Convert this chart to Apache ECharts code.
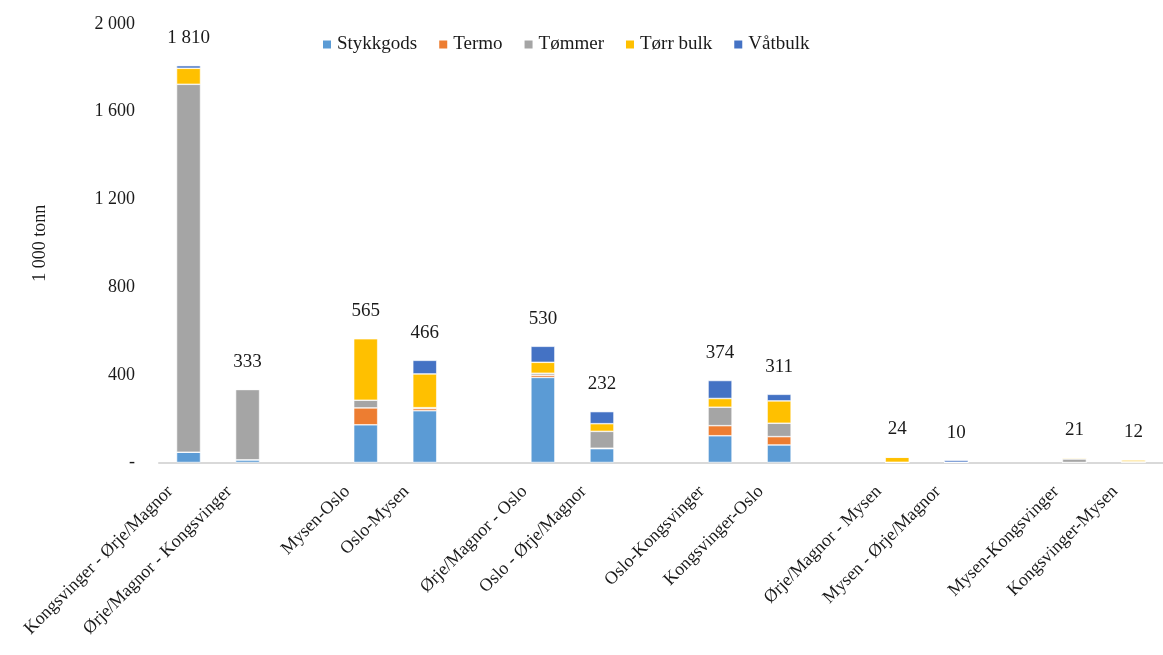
<!DOCTYPE html>
<html>
<head>
<meta charset="utf-8">
<script src="https://cdn.jsdelivr.net/npm/echarts@6/dist/echarts.min.js"></script>
<style>
  html, body { margin: 0; padding: 0; background: #fff; }
  #chart { width: 1163px; height: 655px; }
</style>
</head>
<body>
<div id="chart"></div>
<script>
  // ruter, tomme strenger gir mellomrom mellom parene
  var categories = [
    'Kongsvinger - Ørje/Magnor', 'Ørje/Magnor - Kongsvinger', '',
    'Mysen-Oslo', 'Oslo-Mysen', '',
    'Ørje/Magnor - Oslo', 'Oslo - Ørje/Magnor', '',
    'Oslo-Kongsvinger', 'Kongsvinger-Oslo', '',
    'Ørje/Magnor - Mysen', 'Mysen - Ørje/Magnor', '',
    'Mysen-Kongsvinger', 'Kongsvinger-Mysen'
  ]

  // 1 000 tonn per varegruppe
  var stykkgods = [47, 12, null, 172, 236, null, 388, 63, null, 122, 80, null, 0, 1, null, 0, 0]
  var termo     = [0, 0, null, 77, 10, null, 10, 2, null, 46, 38, null, 0, 0, null, 0, 0]
  var tommer    = [1678, 321, null, 35, 4, null, 9, 77, null, 84, 61, null, 1, 0, null, 16, 4]
  var torrBulk  = [73, 0, null, 281, 154, null, 50, 35, null, 40, 102, null, 23, 0, null, 5, 8]
  var vatbulk   = [12, 0, null, 0, 62, null, 73, 55, null, 82, 30, null, 0, 9, null, 0, 0]

  var yTicks = ['-', '400', '800', '1 200', '1 600', '2 000']

  var serif = '"Liberation Serif", "DejaVu Serif", serif'

  function total(i) {
    return stykkgods[i] + termo[i] + tommer[i] + torrBulk[i] + vatbulk[i]
  }
  function fmt(v) {
    return String(v).replace(/\B(?=(\d{3})+(?!\d))/g, ' ')
  }

  function makeSeries(name, color, data, last) {
    var s = {
      name: name,
      type: 'bar',
      stack: 'sum',
      barWidth: 24,
      data: data,
      itemStyle: { color: color, borderColor: '#ffffff', borderWidth: 0.6 },
      emphasis: { disabled: true }
    }
    if (last) {
      s.label = {
        show: true,
        position: 'top',
        distance: 18,
        color: '#1a1a1a',
        fontFamily: serif,
        fontSize: 19,
        formatter: function (p) {
          if (categories[p.dataIndex] === '') return ''
          return fmt(total(p.dataIndex))
        }
      }
    }
    return s
  }

  var chart = echarts.init(document.getElementById('chart'))
  chart.setOption({
    animation: false,
    textStyle: { fontFamily: serif },
    legend: {
      left: 316,
      top: 30,
      itemWidth: 10,
      itemHeight: 10,
      itemGap: 20,
      icon: 'rect',
      textStyle: { fontFamily: serif, fontSize: 19, color: '#1a1a1a' },
      data: ['Stykkgods', 'Termo', 'Tømmer', 'Tørr bulk', 'Våtbulk']
    },
    grid: {
      left: 159,
      top: 24,
      width: 1020,
      height: 438.5,
      containLabel: false
    },
    xAxis: {
      type: 'category',
      data: categories,
      axisLine: { lineStyle: { color: '#d9d9d9', width: 2 } },
      axisTick: { show: false },
      axisLabel: {
        interval: 0,
        rotate: 45,
        margin: 8,
        color: '#1a1a1a',
        fontFamily: serif,
        fontSize: 18,
        padding: [0, 26, 0, 0]
      }
    },
    yAxis: {
      type: 'value',
      min: 0,
      max: 2000,
      interval: 400,
      name: '1 000 tonn',
      nameLocation: 'middle',
      nameGap: 110,
      nameRotate: 90,
      nameTextStyle: { fontFamily: serif, fontSize: 18, color: '#1a1a1a' },
      axisLine: { show: false },
      axisTick: { show: false },
      splitLine: { show: false },
      axisLabel: {
        margin: 24,
        color: '#1a1a1a',
        fontFamily: serif,
        fontSize: 18,
        formatter: function (v) {
          return yTicks[v / 400]
        }
      }
    },
    series: [
      makeSeries('Stykkgods', '#5b9bd5', stykkgods),
      makeSeries('Termo', '#ed7d31', termo),
      makeSeries('Tømmer', '#a5a5a5', tommer),
      makeSeries('Tørr bulk', '#ffc000', torrBulk),
      makeSeries('Våtbulk', '#4472c4', vatbulk, true)
    ]
  })
</script>
</body>
</html>
